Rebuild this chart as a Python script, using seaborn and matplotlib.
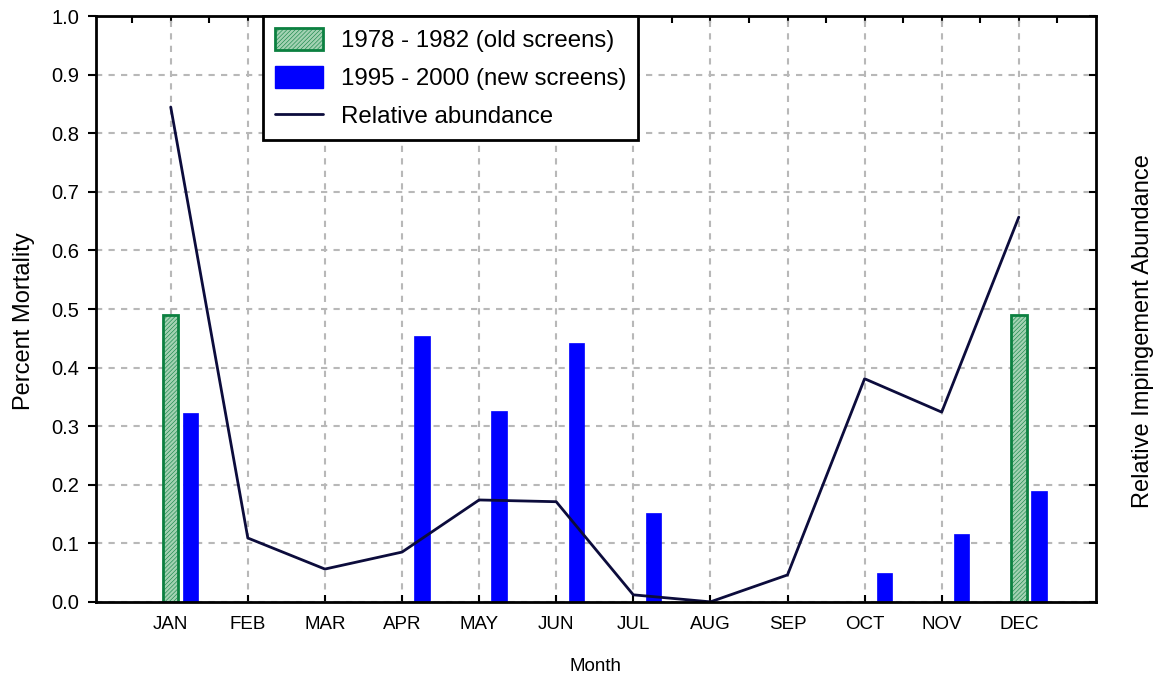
import numpy as np
import pandas as pd
import seaborn as sns
import matplotlib.pyplot as plt
from matplotlib.patches import Patch
from matplotlib.lines import Line2D

# Data
months = ['JAN', 'FEB', 'MAR', 'APR', 'MAY', 'JUN', 'JUL', 'AUG', 'SEP', 'OCT', 'NOV', 'DEC']
old_months = ['JAN', 'DEC']
old_mortality = [0.49, 0.49]
new_months = ['JAN', 'APR', 'MAY', 'JUN', 'JUL', 'OCT', 'NOV', 'DEC']
new_mortality = [0.322, 0.454, 0.326, 0.442, 0.152, 0.05, 0.116, 0.19]
abundance = [0.845, 0.109, 0.056, 0.085, 0.174, 0.171, 0.012, 0.0, 0.046, 0.381, 0.324, 0.657]
y_ticks = [0.0, 0.1, 0.2, 0.3, 0.4, 0.5, 0.6, 0.7, 0.8, 0.9, 1.0]

month_pos = {m: i for i, m in enumerate(months)}
bar_w = 0.2
new_shift = 0.26

old_df = pd.DataFrame({'x': [month_pos[m] for m in old_months], 'y': old_mortality})
new_df = pd.DataFrame({'x': [month_pos[m] + new_shift for m in new_months], 'y': new_mortality})
line_df = pd.DataFrame({'x': range(len(months)), 'y': abundance})

sns.set_style('white')
plt.rcParams['font.family'] = ['Liberation Sans', 'DejaVu Sans']
plt.rcParams['text.color'] = 'black'
plt.rcParams['xtick.color'] = 'black'
plt.rcParams['ytick.color'] = 'black'
plt.rcParams['axes.labelcolor'] = 'black'
plt.rcParams['hatch.linewidth'] = 0.4

fig, ax = plt.subplots(figsize=(11.56, 6.77), dpi=100)
fig.subplots_adjust(left=0.083, right=0.948, top=0.976, bottom=0.111)

green_face = '#a3d2b3'
green_edge = '#0b8040'
blue = '#0000ff'
navy = '#0c0c3c'
hatch = '////////'

# bars: width is relative to min spacing when native_scale=True
sns.barplot(data=old_df, x='x', y='y', native_scale=True, errorbar=None,
            width=bar_w / np.diff(np.unique(old_df['x'])).min(),
            color=green_face, edgecolor=green_edge, linewidth=2, hatch=hatch,
            saturation=1, ax=ax)
sns.barplot(data=new_df, x='x', y='y', native_scale=True, errorbar=None,
            width=bar_w / np.diff(np.unique(new_df['x'])).min(),
            color=blue, edgecolor=blue, linewidth=0.5, saturation=1, ax=ax)
sns.lineplot(data=line_df, x='x', y='y', color=navy, linewidth=2, ax=ax)

ax.set_xlim(-0.97, 12.0)
ax.set_ylim(0, 1)
ax.set_xticks(range(len(months)))
ax.set_xticklabels(months, fontsize=13.5)
ax.set_yticks(y_ticks)
ax.set_yticklabels([f'{v:.1f}' for v in y_ticks], fontsize=14.5)
ax.set_xlabel('Month', fontsize=13.5, labelpad=18)
ax.set_ylabel('Percent Mortality', fontsize=17, labelpad=12)
ax.yaxis.label.set_y(0.48)

ax.grid(True, color='#b8b8b8', linestyle=(0, (3, 3)), linewidth=1.5)
ax.set_axisbelow(True)
for s in ax.spines.values():
    s.set_visible(True)
    s.set_color('black')
    s.set_linewidth(2)

ax.tick_params(axis='y', which='major', direction='out', length=6, width=1.5, pad=6, left=True)
ax.tick_params(axis='x', which='major', direction='in', length=5, width=1.5, pad=10, bottom=True)

# top ticks at half-month spacing, inward
top = ax.secondary_xaxis('top')
top.set_xticks(np.arange(-0.5, 12.0, 0.5))
top.tick_params(direction='in', length=5, width=1.5, labeltop=False)
top.spines['top'].set_visible(False)

# right axis: ticks only, label
ax2 = ax.twinx()
ax2.set_ylim(0, 1)
ax2.set_yticks(y_ticks)
ax2.tick_params(axis='y', direction='in', length=5, width=1.5, labelright=False, right=True)
for s in ax2.spines.values():
    s.set_visible(False)
ax2.set_ylabel('Relative Impingement Abundance', fontsize=17, labelpad=26)
ax2.yaxis.label.set_y(0.462)

handles = [
    Patch(facecolor=green_face, edgecolor=green_edge, linewidth=2, hatch=hatch),
    Patch(facecolor=blue, edgecolor=blue),
    Line2D([0], [0], color=navy, linewidth=2),
]
labels = ['1978 - 1982 (old screens)', '1995 - 2000 (new screens)', 'Relative abundance']
leg = ax.legend(handles, labels, loc='upper left', bbox_to_anchor=(0.167, 1.0),
                borderaxespad=0, fontsize=17.3, fancybox=False, framealpha=1,
                edgecolor='black', handlelength=2.0, handleheight=1.0,
                labelspacing=0.58, handletextpad=0.75, borderpad=0.5)
leg.get_frame().set_linewidth(2)
leg.set_zorder(5)

fig.savefig('out.png', dpi=100)
